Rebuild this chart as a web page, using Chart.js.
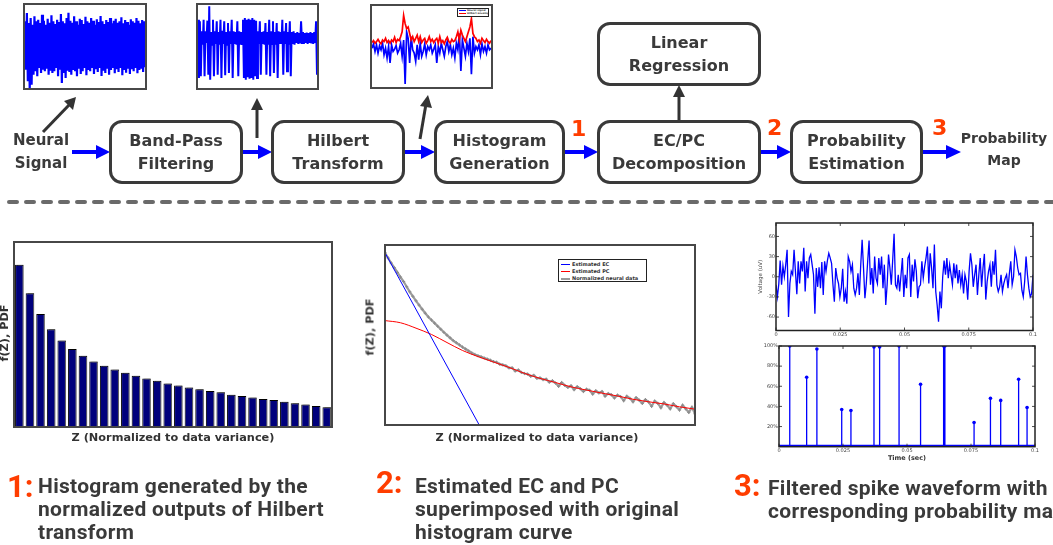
<!DOCTYPE html>
<html>
<head>
<meta charset="utf-8">
<script src="https://cdn.jsdelivr.net/npm/chart.js@4.4.1/dist/chart.umd.min.js"></script>
<style>
  body { margin: 0; width: 1053px; height: 545px; overflow: hidden; background: #fff; position: relative; font-family: "DejaVu Sans", sans-serif; color: #3a3a3a; }
  canvas { position: absolute; }
  .box { position: absolute; box-sizing: border-box; border: 3px solid #3a3a3a; border-radius: 13px; display: flex; flex-direction: column; justify-content: center; align-items: center; text-align: center; font-weight: bold; font-size: 16px; line-height: 23px; }
  .lbl { position: absolute; text-align: center; font-weight: bold; }
  .thumb { position: absolute; box-sizing: border-box; border: 2px solid #484848; background: #fff; }
  .thumb canvas { left: 0; top: 0; }
  .num { position: absolute; color: #ff3d00; font-weight: bold; font-size: 22px; line-height: 22px; }
  .cap { position: absolute; font-family: Roboto, sans-serif; font-weight: bold; font-size: 21px; letter-spacing: 0.3px; line-height: 23px; color: #3a3a3a; white-space: nowrap; }
  .capnum { position: absolute; font-family: Roboto, sans-serif; font-weight: bold; font-size: 31px; line-height: 32px; color: #ff3d00; }
  .axt { position: absolute; font-weight: bold; font-size: 11.3px; white-space: nowrap; color: #333; transform: translate(-50%, -50%); }
  .axt.rot { transform: translate(-50%, -50%) rotate(-90deg); }
  .legend { position: absolute; box-sizing: border-box; border: 1px solid #222; background: #fff; font-size: 5px; font-weight: bold; color: #333; line-height: 7px; padding: 1px 2px; overflow: hidden; white-space: nowrap; }
  .legend span.sw { display: inline-block; width: 9px; height: 1px; vertical-align: middle; margin-right: 2px; }
</style>
</head>
<body>

<!-- top: signal thumbnails -->
<div class="thumb" style="left:23px;top:3px;width:124px;height:87px"><canvas id="raw" width="120" height="83"></canvas></div>
<div class="thumb" style="left:196px;top:3px;width:123px;height:87px"><canvas id="filt" width="119" height="83"></canvas></div>
<div class="thumb" style="left:370px;top:4px;width:123px;height:85px"><canvas id="hilb" width="119" height="81"></canvas>
  <div class="legend" style="left:85px;top:2px;width:32px;height:9px;font-size:2.5px;line-height:3.3px;padding:0 1px">
    <div><span class="sw" style="background:#0000ff;width:7px;height:1.2px;margin-right:1px"></span>Neural signal</div>
    <div><span class="sw" style="background:#ff0000;width:7px;height:1.2px;margin-right:1px"></span>Hilbert envelope</div>
  </div>
</div>

<!-- arrows and separator -->
<svg width="1053" height="545" style="position:absolute;left:0;top:0">
  <g stroke="#0000ff" stroke-width="4">
    <line x1="72" y1="152" x2="98" y2="152"/>
    <line x1="243" y1="152" x2="260" y2="152"/>
    <line x1="405" y1="152" x2="423" y2="152"/>
    <line x1="565" y1="152" x2="586" y2="152"/>
    <line x1="761" y1="152" x2="779" y2="152"/>
    <line x1="923" y1="152" x2="948" y2="152"/>
  </g>
  <g fill="#0000ff">
    <polygon points="96,145 110,152 96,159"/>
    <polygon points="258,145 272,152 258,159"/>
    <polygon points="421,145 435,152 421,159"/>
    <polygon points="584,145 598,152 584,159"/>
    <polygon points="777,145 791,152 777,159"/>
    <polygon points="946,145 961,152 946,159"/>
  </g>
  <g stroke="#333" stroke-width="3">
    <line x1="43" y1="132" x2="70" y2="104"/>
    <line x1="257" y1="138" x2="257" y2="108"/>
    <line x1="420" y1="139" x2="426" y2="104"/>
    <line x1="679" y1="120" x2="679" y2="94"/>
  </g>
  <g fill="#333">
    <polygon points="76,97 73,110 64,101"/>
    <polygon points="257,98 263,110 251,110"/>
    <polygon points="428,95 432,108 420,106"/>
    <polygon points="679,85 685,97 673,97"/>
  </g>
  <line x1="9" y1="202" x2="1053" y2="202" stroke="#6a6a6a" stroke-width="4" stroke-linecap="round" stroke-dasharray="8 9"/>
</svg>

<!-- flow boxes -->
<div class="lbl" style="left:0;top:129px;width:82px;font-size:15px;line-height:23px">Neural<br>Signal</div>
<div class="box" style="left:109px;top:120px;width:134px;height:64px">Band-Pass<br>Filtering</div>
<div class="box" style="left:271px;top:120px;width:134px;height:64px">Hilbert<br>Transform</div>
<div class="box" style="left:434px;top:120px;width:131px;height:64px">Histogram<br>Generation</div>
<div class="box" style="left:597px;top:120px;width:164px;height:64px">EC/PC<br>Decomposition</div>
<div class="box" style="left:597px;top:22px;width:164px;height:64px">Linear<br>Regression</div>
<div class="box" style="left:790px;top:120px;width:133px;height:64px">Probability<br>Estimation</div>
<div class="lbl" style="left:954px;top:127px;width:100px;font-size:14px;line-height:22px">Probability<br>Map</div>
<div class="num" style="left:571px;top:118px">1</div>
<div class="num" style="left:767px;top:117px">2</div>
<div class="num" style="left:932px;top:117px">3</div>

<!-- bottom charts -->
<canvas id="hist" width="322" height="189" style="left:12px;top:240px"></canvas>
<div class="axt rot" style="left:4px;top:333px">f(Z), PDF</div>
<div class="axt" style="left:173px;top:437px">Z (Normalized to data variance)</div>

<canvas id="ecpc" width="320" height="190" style="left:380px;top:240px"></canvas>
<div class="axt rot" style="left:370px;top:327px">f(Z), PDF</div>
<div class="axt" style="left:537px;top:437px">Z (Normalized to data variance)</div>
<div class="legend" style="left:558px;top:259px;width:89px;height:23px">
  <div><span class="sw" style="background:#0000ff"></span>Estimated EC</div>
  <div><span class="sw" style="background:#ff0000"></span>Estimated PC</div>
  <div><span class="sw" style="background:#999;height:2px"></span>Normalized neural data</div>
</div>

<canvas id="volt" width="313" height="124" style="left:740px;top:218px"></canvas>
<canvas id="prob" width="313" height="125" style="left:740px;top:340px"></canvas>

<!-- captions -->
<div class="capnum" style="left:7px;top:471px">1:</div>
<div class="cap" style="left:38px;top:475px">Histogram generated by the<br>normalized outputs of Hilbert<br>transform</div>
<div class="capnum" style="left:376px;top:467px">2:</div>
<div class="cap" style="left:415px;top:475px">Estimated EC and PC<br>superimposed with original<br>histogram curve</div>
<div class="capnum" style="left:734px;top:470px">3:</div>
<div class="cap" style="left:768px;top:477px">Filtered spike waveform with<br>corresponding probability map</div>

<script>
// thumbnails (arbitrary amplitude units)
const rawSignal = [70,-75,95,-110,65,-135,80,-120,60,-90,85,-80,70,-95,75,-70,65,-85,90,-75,
  72,-80,60,-72,78,-90,66,-78,88,-85,70,-80,62,-70,75,-95,68,-75,92,-115,
  70,-85,64,-100,80,-78,96,-82,72,-90,66,-76,85,-80,70,-95,60,-72,78,-88,
  74,-80,62,-70,84,-92,70,-76,66,-80,80,-70,72,-88,60,-74,76,-82,68,-70,
  86,-94,70,-78,62,-85,74,-72,68,-90,80,-76,64,-70,72,-86,78,-74,66,-82,
  70,-70,82,-92,64,-76,74,-84,68,-72,60,-88,76,-74,70,-80,66,-70,80,-86,
  72,-76,64,-72,74,-82,70,-68];
const filteredSignal = [55,-120,50,-115,20,-20,55,-115,20,-15,52,-110,95,-125,18,-20,55,-115,
  20,-18,50,-110,18,-20,55,-120,22,-18,50,-112,18,-20,45,-105,20,-18,55,-120,20,-18,18,-20,
  50,-115,20,-20,18,-18,55,-120,60,-125,55,-118,58,-122,55,-120,60,-125,55,-115,52,-120,
  20,-18,50,-110,18,-18,20,-20,45,-110,18,-20,55,-115,20,-18,50,-105,18,-20,45,-120,20,-18,
  18,-18,55,-110,20,-18,45,-100,18,-20,50,-115,18,-18,20,-20,15,-15,18,-18,15,-16,50,-15,
  18,-18,15,-15,16,-18,15,-15,18,-16,15,-18,18,-15,50,-110];
const hilbertSignal = [-5,8,-15,5,-20,2,-10,10,-25,-5,-35,0,-50,5,-15,-8,3,-20,-10,
  10,-30,20,-115,45,25,-50,30,-10,-20,
  -45,5,-40,10,-30,-15,8,-25,0,-10,5,-20,-8,
  5,-50,0,-20,10,-10,-30,0,15,-15,5,-25,-5,
  -35,10,-10,40,-75,20,-5,-30,10,-15,25,-85,30,-20,0,-10,
  5,-25,8,-15,0,-20,5,-10,-5];
const hilbertEnvelope = [12,18,10,15,22,14,8,20,15,25,12,18,10,20,15,28,12,22,18,
  30,45,95,70,55,60,40,20,30,15,
  25,35,15,30,12,20,25,10,18,30,15,22,12,
  20,25,10,30,12,18,8,20,28,15,10,22,15,
  18,30,45,20,50,35,25,15,30,45,60,85,40,30,25,15,
  20,10,25,18,12,22,15,10,18];

// histogram of normalized Hilbert outputs
const histPdf = [0.877,0.723,0.611,0.528,0.468,0.421,0.385,0.354,0.331,0.311,
  0.293,0.277,0.262,0.250,0.235,0.224,0.213,0.204,0.195,0.188,
  0.175,0.168,0.159,0.152,0.146,0.137,0.128,0.121,0.114,0.107];

// EC/PC decomposition
const zData = [0,0.01,0.02,0.03,0.04,0.05,0.06,0.07,0.08,0.09,0.10,0.11,0.12,0.13,0.14,0.15,0.16,0.17,0.18,0.19,
  0.20,0.21,0.22,0.23,0.24,0.25,0.26,0.27,0.28,0.29,0.30,0.31,0.32,0.33,0.34,0.35,0.36,0.37,0.38,0.39,
  0.40,0.41,0.42,0.43,0.44,0.45,0.46,0.47,0.48,0.49,0.50,0.51,0.52,0.53,0.54,0.55,0.56,0.57,0.58,0.59,
  0.60,0.61,0.62,0.63,0.64,0.65,0.66,0.67,0.68,0.69,0.70,0.71,0.72,0.73,0.74,0.75,0.76,0.77,0.78,0.79,
  0.80,0.81,0.82,0.83,0.84,0.85,0.86,0.87,0.88,0.89,0.90,0.91,0.92,0.93,0.94,0.95,0.96,0.97,0.98,0.99,1.00];
const pdfData = [.957,.928,.900,.874,.848,.822,.797,.768,.740,.715,.690,.666,.643,.621,.600,.583,.566,.549,.532,.515,
  .499,.484,.469,.457,.445,.433,.422,.411,.400,.392,.385,.379,.372,.366,.360,.352,.349,.338,.334,.329,
  .317,.318,.300,.306,.292,.286,.283,.271,.276,.259,.262,.252,.255,.238,.246,.233,.215,.236,.220,.209,
  .218,.196,.213,.202,.186,.199,.193,.172,.190,.178,.186,.160,.175,.168,.150,.166,.158,.135,.160,.148,
  .129,.152,.138,.120,.141,.128,.104,.133,.120,.096,.125,.110,.090,.118,.102,.083,.110,.090,.070,.098,.062];
const zFit = [0,0.05,0.10,0.15,0.20,0.25,0.30,0.35,0.40,0.45,0.50,0.55,0.60,0.65,0.70,0.75,0.80,0.85,0.90,0.95,1.00];
const pcFit = [.580,.568,.538,.503,.458,.414,.380,.350,.320,.287,.259,.236,.212,.194,.177,.161,.143,.129,.117,.101,.088];
const zEc = [0, 0.304];
const ecFit = [0.957, 0];

// filtered spike waveform (uV), 0 - 0.1 s
const voltage = [-12,-30,-11,24,-12,16,0,18,40,-60,
  -10,8,3,40,8,-26,23,-10,23,8,
  43,-22,23,-2,28,33,18,3,-55,13,
  -15,14,-17,22,-27,23,8,24,35,28,
  20,-12,-37,13,-2,-10,-30,-17,12,-37,
  -22,-40,30,23,8,18,-17,-27,-17,5,
  -27,18,55,13,-32,-10,23,54,-12,13,
  -25,30,-2,-10,28,3,30,-17,18,-42,
  -12,33,13,-12,25,64,-12,-17,3,-22,
  3,28,-30,3,-17,28,33,-30,18,-7,
  26,8,-32,-15,-12,23,-2,15,28,45,
  -10,35,13,-17,48,-22,-42,-67,-22,-47,
  0,24,3,28,-2,18,3,-12,20,-2,
  18,-10,10,-12,3,-25,3,-7,-34,8,
  35,18,-15,3,18,-27,3,28,-15,13,
  34,-34,-7,8,18,-15,23,3,40,-12,
  -22,-15,3,-22,-10,-2,3,-17,5,23,
  -12,0,40,30,13,3,5,-20,-30,-7,
  30,3,-17,-30,-25,3];
const spikeTimes = [0.0042,0.0108,0.0148,0.0245,0.0281,0.0371,0.0393,0.0469,0.0553,0.0643,0.0648,0.0762,0.0826,0.0866,0.0936,0.0969];
const spikeProb = [100,69,97,37,36,99,99,100,62,100,100,24,48,46,67,39];
const timeTicks = [0, 0.025, 0.05, 0.075, 0.1];
const timeLabels = ['0', '0.025', '0.05', '0.075', '0.1'];
const voltTicks = [-60, -30, 0, 30, 60];
const probTicks = [20, 40, 60, 80, 100];

Chart.defaults.animation = false;
Chart.defaults.responsive = false;
Chart.defaults.font.family = 'DejaVu Sans';
Chart.defaults.plugins.legend.display = false;
Chart.defaults.plugins.tooltip.enabled = false;

// frame round the plot, with MATLAB-like inward ticks
const boxFrame = {
  id: 'boxFrame',
  afterDatasetsDraw(chart, args, opts) {
    const { ctx, chartArea: a, scales } = chart;
    ctx.save();
    ctx.strokeStyle = opts.color;
    ctx.lineWidth = opts.width;
    ctx.strokeRect(a.left, a.top, a.right - a.left, a.bottom - a.top);
    if (opts.tick) {
      ctx.lineWidth = 0.8;
      ctx.beginPath();
      scales.x.ticks.forEach(t => {
        const px = scales.x.getPixelForValue(t.value);
        ctx.moveTo(px, a.bottom); ctx.lineTo(px, a.bottom - opts.tick);
        ctx.moveTo(px, a.top); ctx.lineTo(px, a.top + opts.tick);
      });
      scales.y.ticks.forEach(t => {
        const py = scales.y.getPixelForValue(t.value);
        ctx.moveTo(a.left, py); ctx.lineTo(a.left + opts.tick, py);
        ctx.moveTo(a.right, py); ctx.lineTo(a.right - opts.tick, py);
      });
      ctx.stroke();
    }
    ctx.restore();
  }
};

const barShadow = {
  id: 'barShadow',
  beforeDatasetsDraw(chart) {
    const c = chart.ctx;
    c.save();
    c.shadowColor = 'rgba(120,120,120,0.8)';
    c.shadowOffsetX = 2;
    c.shadowOffsetY = 0;
  },
  afterDatasetsDraw(chart) { chart.ctx.restore(); }
};

function signalChart(id, series, yMin, yMax) {
  new Chart(document.getElementById(id), {
    type: 'line',
    data: {
      datasets: series.map(s => ({
        data: s.values.map((v, i) => ({ x: i, y: v })),
        borderColor: s.color, borderWidth: s.width || 1, pointRadius: 0
      }))
    },
    options: {
      layout: { padding: 0 },
      scales: {
        x: { type: 'linear', display: false, min: 0, max: series[0].values.length - 1 },
        y: { display: false, min: yMin, max: yMax }
      }
    }
  });
}

signalChart('raw', [{ values: rawSignal, color: '#0000ff', width: 2.2 }], -130, 119);
signalChart('filt', [{ values: filteredSignal, color: '#0000ff', width: 2 }], -150, 99);
signalChart('hilb', [
  { values: hilbertEnvelope, color: '#ff0000', width: 1.7 },
  { values: hilbertSignal, color: '#0000ff', width: 1.7 }
], -124, 124);

// 1: histogram
new Chart(document.getElementById('hist'), {
  type: 'bar',
  data: {
    labels: histPdf.map((v, i) => i + 1),
    datasets: [{
      data: histPdf,
      backgroundColor: '#00007c',
      borderColor: '#000000',
      borderWidth: 1,
      categoryPercentage: 1,
      barPercentage: 0.8
    }]
  },
  options: {
    layout: { padding: 2 },
    scales: {
      x: { display: false },
      y: { display: false, min: 0, max: 1 }
    },
    plugins: { boxFrame: { color: '#474747', width: 2 } }
  },
  plugins: [barShadow, boxFrame]
});

// 2: EC / PC over the normalized histogram curve
new Chart(document.getElementById('ecpc'), {
  type: 'line',
  data: {
    datasets: [
      { label: 'Estimated EC', data: zEc.map((z, i) => ({ x: z, y: ecFit[i] })), borderColor: '#0000ff', borderWidth: 1, pointRadius: 0 },
      { label: 'Estimated PC', data: zFit.map((z, i) => ({ x: z, y: pcFit[i] })), borderColor: '#ff0000', borderWidth: 1, pointRadius: 0, cubicInterpolationMode: 'monotone' },
      { label: 'Normalized neural data', data: zData.map((z, i) => ({ x: z, y: pdfData[i] })), borderColor: '#9c9c9c', borderWidth: 2.2,
        pointRadius: 1.6, pointStyle: 'cross', pointBorderColor: '#8c8c8c', pointBorderWidth: 1 }
    ]
  },
  options: {
    layout: { padding: 2 },
    scales: {
      x: { type: 'linear', display: false, min: 0, max: 1 },
      y: { display: false, min: 0, max: 1 }
    },
    plugins: { boxFrame: { color: '#474747', width: 2 } }
  },
  plugins: [boxFrame]
});

const smallTicks = { font: { size: 5 }, color: '#444', padding: 1 };

// 3a: filtered waveform
new Chart(document.getElementById('volt'), {
  type: 'line',
  data: {
    datasets: [{
      data: voltage.map((v, i) => ({ x: i * 0.1 / (voltage.length - 1), y: v })),
      borderColor: '#0000ff', borderWidth: 1.3, pointRadius: 0
    }]
  },
  options: {
    layout: { padding: { top: 5, right: 20, left: 0, bottom: 0 } },
    scales: {
      x: {
        type: 'linear', min: 0, max: 0.1,
        afterBuildTicks: s => { s.ticks = timeTicks.map(v => ({ value: v })); },
        afterFit: s => { s.height = 11.5; },
        ticks: { ...smallTicks, maxRotation: 0, callback: (v, i) => timeLabels[i] },
        grid: { display: false, drawTicks: false }, border: { display: false }
      },
      y: {
        min: -80, max: 80,
        afterBuildTicks: s => { s.ticks = voltTicks.map(v => ({ value: v })); },
        afterFit: s => { s.width = 36; },
        ticks: smallTicks,
        grid: { display: false, drawTicks: false }, border: { display: false },
        title: { display: true, text: 'Voltage (uV)', font: { size: 5.5 }, color: '#444', padding: { top: 17, bottom: 0 } }
      }
    },
    plugins: { boxFrame: { color: '#222', width: 1.5, tick: 3 } }
  },
  plugins: [boxFrame]
});

// 3b: probability map
const stems = [];
spikeTimes.forEach((t, i) => { stems.push({ x: t, y: 0 }, { x: t, y: spikeProb[i] }, { x: t, y: null }); });
new Chart(document.getElementById('prob'), {
  type: 'line',
  data: {
    datasets: [
      { data: spikeTimes.map((t, i) => ({ x: t, y: spikeProb[i] })), showLine: false, pointRadius: 1.8, pointBackgroundColor: '#0000ff', pointBorderWidth: 0 },
      { data: stems, borderColor: '#0000ff', borderWidth: 1.3, pointRadius: 0, spanGaps: false },
      { data: [{ x: 0, y: 0 }, { x: 0.1, y: 0 }], borderColor: '#0000ff', borderWidth: 4, pointRadius: 0 }
    ]
  },
  options: {
    layout: { padding: { top: 6, right: 18, left: 0, bottom: 0 } },
    scales: {
      x: {
        type: 'linear', min: 0, max: 0.1,
        afterBuildTicks: s => { s.ticks = timeTicks.map(v => ({ value: v })); },
        afterFit: s => { s.height = 18.3; },
        ticks: { ...smallTicks, maxRotation: 0, callback: (v, i) => timeLabels[i] },
        grid: { display: false, drawTicks: false }, border: { display: false },
        title: { display: true, text: 'Time (sec)', font: { size: 6.5, weight: 'bold' }, color: '#333', padding: { top: 0, bottom: 3 } }
      },
      y: {
        min: 0, max: 100,
        afterBuildTicks: s => { s.ticks = probTicks.map(v => ({ value: v })); },
        afterFit: s => { s.width = 39; },
        ticks: { ...smallTicks, callback: v => v + '%' },
        grid: { display: false, drawTicks: false }, border: { display: false }
      }
    },
    plugins: { boxFrame: { color: '#222', width: 1.5, tick: 3 } }
  },
  plugins: [boxFrame]
});
</script>
</body>
</html>
